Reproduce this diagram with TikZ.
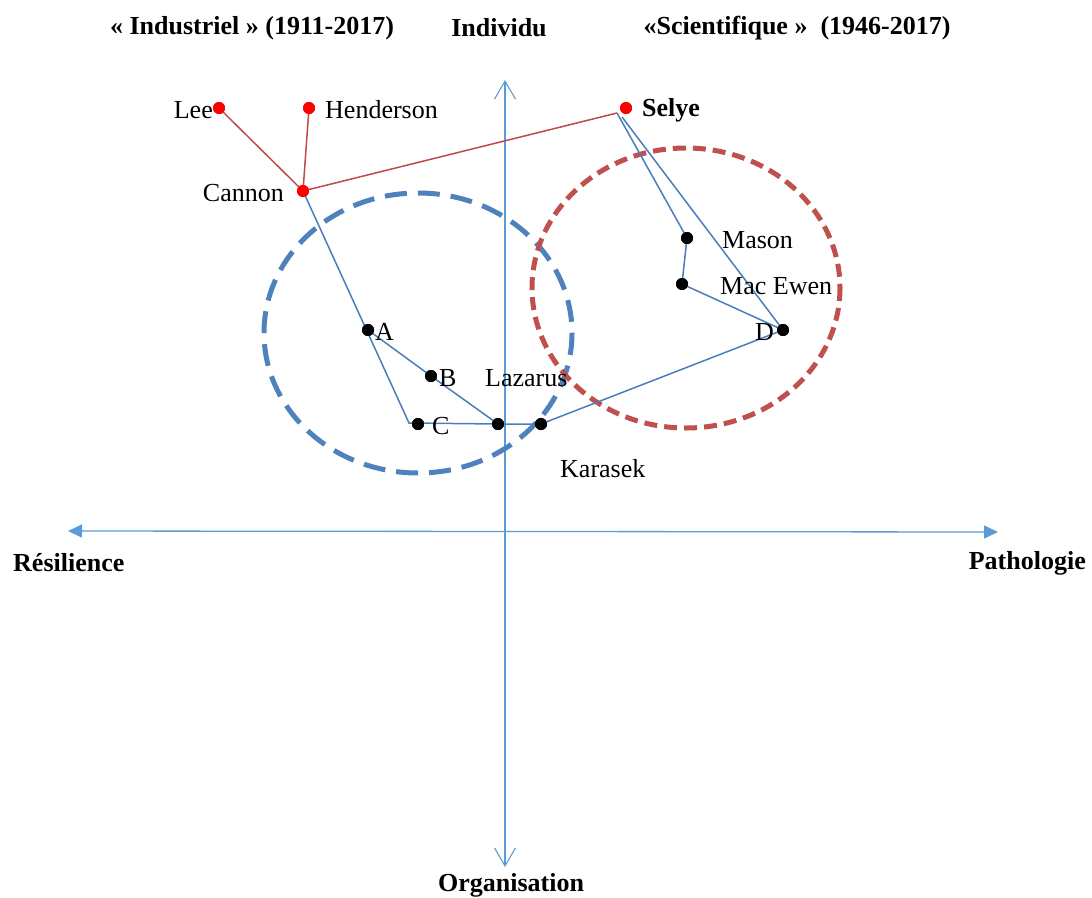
\documentclass[tikz,border=0pt]{standalone}
\usepackage{fontspec}
\setmainfont{Liberation Serif}
\usetikzlibrary{arrows.meta}
\definecolor{axisblue}{HTML}{5B9BD5}
\definecolor{lineblue}{HTML}{4A7EBB}
\definecolor{linered}{HTML}{BE4B48}
\definecolor{ellblue}{HTML}{4F81BD}
\definecolor{ellred}{HTML}{C0504D}
\definecolor{dotred}{HTML}{FF0000}
\tikzset{
  lbl/.style={inner sep=0pt, font=\fontsize{26}{30}\selectfont},
  blbl/.style={inner sep=0pt, font=\fontsize{26}{30}\selectfont\bfseries},
  bdot/.style={circle, fill=black, minimum size=12pt, inner sep=0pt},
  rdot/.style={circle, fill=dotred, minimum size=12pt, inner sep=0pt},
  bline/.style={draw=lineblue, line width=1.5pt},
  rline/.style={draw=linered, line width=1.5pt},
  hax/.style={draw=axisblue, line width=1.3pt, {Triangle[length=14pt,width=13pt]}-{Triangle[length=14pt,width=13pt]}},
  vax/.style={draw=axisblue, line width=1.1pt, {Straight Barb[length=18pt,width=21pt]}-{Straight Barb[length=18pt,width=21pt]}},
  ellb/.style={draw=ellblue, line width=5pt, dash pattern=on 22pt off 11pt},
  ellr/.style={draw=ellred, line width=5pt, dash pattern=on 13pt off 7pt},
}
\begin{document}
\begin{tikzpicture}[x=1pt,y=-1pt]
\useasboundingbox (0,0) rectangle (1092,897);
% axes
\coordinate (vtop) at (505,80);
\coordinate (vbot) at (505,867);
\coordinate (hl) at (68,531);
\coordinate (hr) at (998,532);
\draw[vax] (vbot) -- (vtop);
\draw[hax] (hl) -- (hr);
% ellipses
\draw[ellb] (418,333) ellipse [x radius=154, y radius=140];
\draw[ellr] (686,288) ellipse [x radius=154, y radius=140];
% dots
\node[rdot] (lee) at (219,108) {};
\node[rdot] (henderson) at (309,108) {};
\node[rdot] (cannon) at (303,191) {};
\node[rdot] (selye) at (626,108) {};
\coordinate (selyeA) at (617,113);
\coordinate (selyeB) at (622,117);
\node[bdot] (a) at (368,330) {};
\node[bdot] (b) at (431,376) {};
\node[bdot] (c) at (418,424) {};
\coordinate (ccorner) at (409,423);
\node[bdot] (lazarus) at (498,424) {};
\node[bdot] (karasek) at (541,424) {};
\node[bdot] (mason) at (687,238) {};
\node[bdot] (macewen) at (682,284) {};
\node[bdot] (d) at (783,330) {};
% red connectors
\draw[rline] (lee.center) -- (cannon.center);
\draw[rline] (henderson.center) -- (cannon.center);
\draw[rline] (cannon.center) -- (selyeA);
% blue connectors
\draw[bline] (cannon.center) -- (ccorner) -- (lazarus.center) -- (karasek.center) -- (d.center);
\draw[bline] (a.center) -- (b.center) -- (lazarus.center);
\draw[bline] (selyeA) -- (mason.center) -- (macewen.center) -- (d.center);
\draw[bline] (selyeB) -- (d.center);
% redraw dots on top
\foreach \n in {lee,henderson,cannon,selye}{\fill[dotred] (\n) circle (6pt);}
\foreach \n in {a,b,c,lazarus,karasek,mason,macewen,d}{\fill[black] (\n) circle (6pt);}
% labels
\node[lbl, anchor=east] (tlee) at (213,110) {Lee};
\node[lbl, anchor=west] (thenderson) at (325,110) {Henderson};
\node[lbl, anchor=east] (tcannon) at (284,193) {Cannon};
\node[blbl, anchor=west] (tselye) at (642,110) {Selye};
\node[lbl, anchor=west] (ta) at (375,332) {A};
\node[lbl, anchor=west] (tb) at (439,378) {B};
\node[lbl, anchor=west] (tc) at (432,426) {C};
\node[lbl, anchor=west] (tlazarus) at (485,378) {Lazarus};
\node[lbl, anchor=west] (tkarasek) at (560,469) {Karasek};
\node[lbl, anchor=west] (tmason) at (722,240) {Mason};
\node[lbl, anchor=west] (tmacewen) at (720,286) {Mac Ewen};
\node[lbl, anchor=east] (td) at (774,332) {D};
\node[blbl] (tind) at (252,28) {« Industriel » (1911-2017)};
\node[blbl] (tindiv) at (499,28) {Individu};
\node[blbl] (tsci) at (797,28) {«Scientifique »~ (1946-2017)};
\node[blbl, anchor=west] (tres) at (13,563) {Résilience};
\node[blbl, anchor=east] (tpath) at (1086,563) {Pathologie};
\node[blbl] (torg) at (511,885) {Organisation};
\end{tikzpicture}
\end{document}
